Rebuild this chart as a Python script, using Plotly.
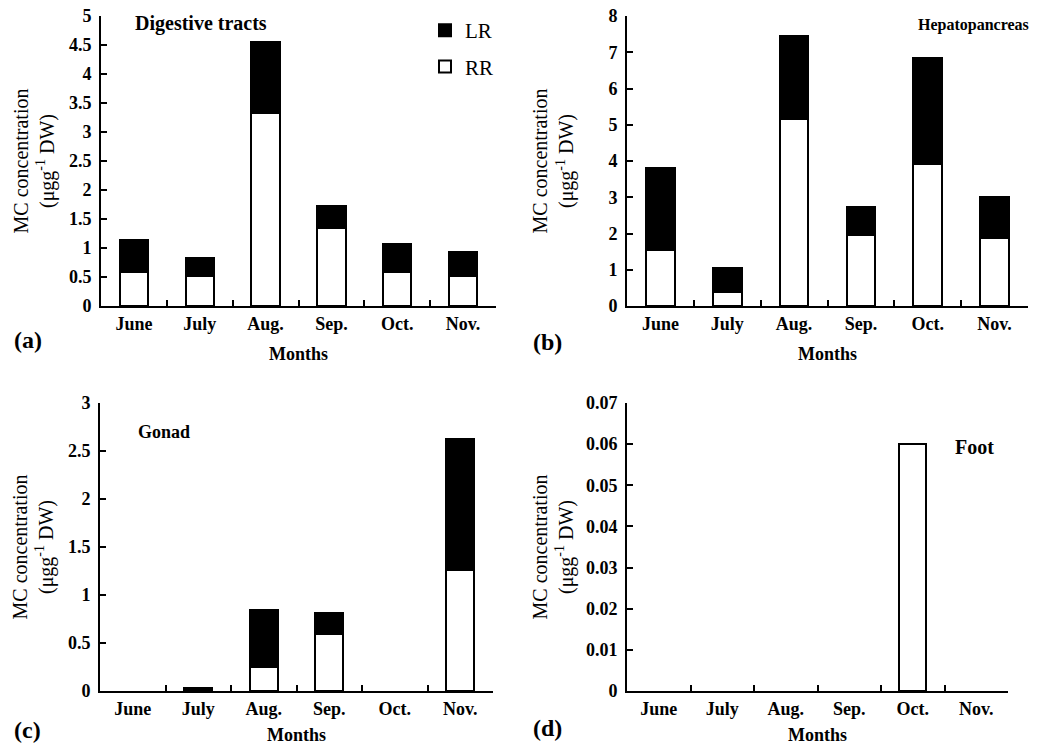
import plotly.graph_objects as go

months = ["June", "July", "Aug.", "Sep.", "Oct.", "Nov."]

digestive_rr = [0.59, 0.52, 3.33, 1.35, 0.59, 0.52]
digestive_lr = [0.55, 0.31, 1.22, 0.37, 0.48, 0.41]

hepato_rr = [1.54, 0.39, 5.15, 1.95, 3.92, 1.88]
hepato_lr = [2.27, 0.67, 2.30, 0.77, 2.91, 1.12]

gonad_rr = [0, 0, 0.25, 0.59, 0, 1.26]
gonad_lr = [0, 0.03, 0.59, 0.22, 0, 1.37]

foot_rr = [0, 0, 0, 0, 0.06, 0]
foot_lr = [0, 0, 0, 0, 0, 0]

panels = [
    ("Digestive tracts", digestive_rr, digestive_lr, 5, 0.5),
    ("Hepatopancreas", hepato_rr, hepato_lr, 8, 1),
    ("Gonad", gonad_rr, gonad_lr, 3, 0.5),
    ("Foot", foot_rr, foot_lr, 0.07, 0.01),
]

FONT = "Liberation Serif"
W, H = 1050, 745

# pixel geometry of plot areas: (x0, x1, ytop, ybottom)
boxes = [
    (101, 496, 16, 306),
    (627, 1028, 16, 306),
    (100, 493, 403, 691),
    (627, 1008, 403, 691),
]
title_standoff = [9, 29, 9, 7]


def widths(vals):
    return [2 if v > 0 else 0 for v in vals]


fig = go.Figure()
layout = {}
for i, (name, rr, lr, ymax, dtick) in enumerate(panels):
    n = "" if i == 0 else str(i + 1)
    xa, ya = "x" + n, "y" + n
    fig.add_trace(go.Bar(
        x=months, y=rr, name="RR", xaxis=xa, yaxis=ya,
        marker=dict(color="white", line=dict(color="black", width=widths(rr))),
        showlegend=(i == 0), legendgroup="RR", legendrank=2,
    ))
    fig.add_trace(go.Bar(
        x=months, y=lr, name="LR", xaxis=xa, yaxis=ya,
        marker=dict(color="black", line=dict(color="black", width=widths(lr))),
        showlegend=(i == 0), legendgroup="LR", legendrank=1,
    ))
    x0, x1, yt, yb = boxes[i]
    layout["xaxis" + n] = dict(
        domain=[x0 / W, x1 / W], anchor=ya, type="category", automargin=False,
        range=[-0.5, 5.5], showline=True, linecolor="black", linewidth=2,
        ticks="inside", tickson="boundaries", ticklen=6, tickwidth=2, tickcolor="black",
        ticklabelstandoff=0,
        tickfont=dict(family=FONT, size=18, color="black", weight="bold"),
        title=dict(text="Months", font=dict(family=FONT, size=18, color="black", weight="bold"),
                   standoff=15),
        showgrid=False, zeroline=False,
    )
    layout["yaxis" + n] = dict(
        domain=[1 - yb / H, 1 - yt / H], anchor=xa, automargin=False,
        range=[0, ymax], dtick=dtick, tick0=0,
        showline=True, linecolor="black", linewidth=2,
        ticks="inside", ticklen=6, tickwidth=2, tickcolor="black",
        ticklabelstandoff=4,
        tickfont=dict(family=FONT, size=18, color="black", weight="bold"),
        title=dict(text="MC concentration<br>(μgg<sup>-1</sup> DW)",
                   font=dict(family=FONT, size=20, color="black"),
                   standoff=title_standoff[i]),
        showgrid=False, zeroline=False,
    )

annotations = [
    dict(text="Digestive tracts", x=133 / W, y=1 - 23 / H, xanchor="left", yanchor="middle",
         font=dict(size=20, weight="bold")),
    dict(text="Hepatopancreas", x=1031 / W, y=1 - 25 / H, xanchor="right", yanchor="middle",
         font=dict(size=16, weight="bold")),
    dict(text="Gonad", x=136 / W, y=1 - 432 / H, xanchor="left", yanchor="middle",
         font=dict(size=18, weight="bold")),
    dict(text="Foot", x=953 / W, y=1 - 447 / H, xanchor="left", yanchor="middle",
         font=dict(size=20, weight="bold")),
    dict(text="(a)", x=12 / W, y=1 - 340 / H, xanchor="left", yanchor="middle",
         font=dict(size=24, weight="bold")),
    dict(text="(b)", x=531 / W, y=1 - 342 / H, xanchor="left", yanchor="middle",
         font=dict(size=24, weight="bold")),
    dict(text="(c)", x=12 / W, y=1 - 730 / H, xanchor="left", yanchor="middle",
         font=dict(size=24, weight="bold")),
    dict(text="(d)", x=531 / W, y=1 - 728 / H, xanchor="left", yanchor="middle",
         font=dict(size=24, weight="bold")),
]
for a in annotations:
    a.update(xref="paper", yref="paper", showarrow=False)
    a["font"].update(family=FONT, color="black")

fig.update_layout(
    **layout,
    annotations=annotations,
    barmode="stack", bargap=0.57,
    width=W, height=H,
    margin=dict(l=0, r=0, t=0, b=0, autoexpand=False),
    paper_bgcolor="white", plot_bgcolor="white",
    legend=dict(x=425 / W, y=1 - 10 / H, xanchor="left", yanchor="top",
                traceorder="grouped", tracegroupgap=6,
                font=dict(family=FONT, size=21, color="black"),
                bgcolor="rgba(0,0,0,0)"),
)

fig.write_html(
    "out.html",
    config={"displayModeBar": False},
    post_script="document.body.style.margin='0px';document.body.style.overflow='hidden';",
)
